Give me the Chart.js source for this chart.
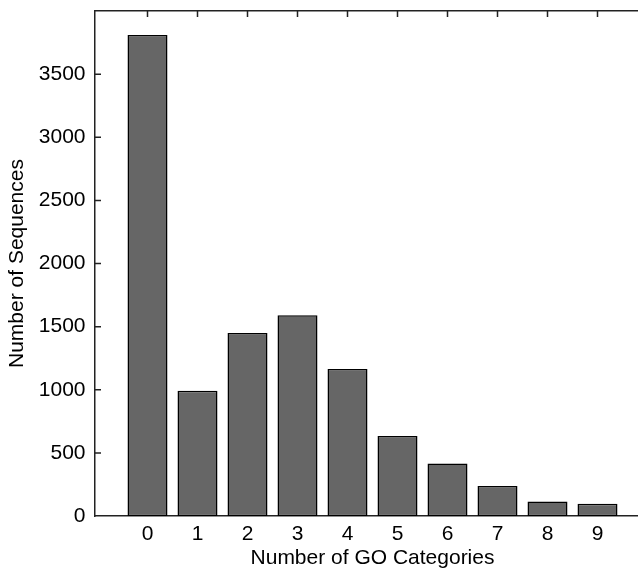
<!DOCTYPE html>
<html>
<head>
<meta charset="utf-8">
<script src="https://cdn.jsdelivr.net/npm/chart.js@4/dist/chart.umd.min.js"></script>
<style>
    html, body { margin: 0; padding: 0; background: #fff; overflow: hidden; }
    /* the original figure is cropped on the right, so the plot runs past the edge */
    #wrap { width: 650px; height: 572px; position: relative; }
</style>
</head>
<body>
<div id="wrap"><canvas id="goChart"></canvas></div>
<script>
/* global Chart */

// number of GO categories per sequence
const categories = [0, 1, 2, 3, 4, 5, 6, 7, 8, 9];
const sequenceCounts = [3810, 993, 1450, 1590, 1164, 633, 415, 238, 114, 98];
const yTicks = [0, 500, 1000, 1500, 2000, 2500, 3000, 3500];
const xTicks = categories;

Chart.defaults.font.family = '"Liberation Sans", Arial, sans-serif';
Chart.defaults.font.size = 21;
Chart.defaults.color = '#000';

// little inward tick marks, like the original matlab-ish frame
const innerTicks = {
    id: 'innerTicks',
    afterDraw(chart) {
        const { ctx, chartArea, scales } = chart;
        ctx.save();
        ctx.strokeStyle = '#222';
        ctx.lineWidth = 1.5;
        ctx.beginPath();
        yTicks.forEach(v => {
            if (v === 0) return;
            const y = scales.y.getPixelForValue(v);
            ctx.moveTo(chartArea.left, y);
            ctx.lineTo(chartArea.left + 6, y);
        });
        xTicks.forEach(v => {
            const x = scales.x.getPixelForValue(v);
            ctx.moveTo(x, chartArea.top);
            ctx.lineTo(x, chartArea.top + 6);
        });
        ctx.stroke();
        ctx.restore();
    }
};

new Chart(document.getElementById('goChart'), {
    type: 'bar',
    data: {
        datasets: [{
            data: categories.map((c, i) => ({ x: c, y: sequenceCounts[i] })),
            backgroundColor: '#666666',
            borderColor: '#000',
            borderWidth: 1.5,
            borderSkipped: false,
            barPercentage: 0.8,
            categoryPercentage: 1
        }]
    },
    options: {
        responsive: true,
        maintainAspectRatio: false,
        animation: false,
        layout: { padding: 0 },
        plugins: { legend: { display: false }, tooltip: { enabled: false } },
        scales: {
            x: {
                type: 'linear',
                position: 'bottom',
                offset: false,
                min: -1.05,
                max: 10.05,
                afterBuildTicks: s => { s.ticks = xTicks.map(v => ({ value: v })); },
                afterFit: s => { s.height = 56; s.paddingLeft = 0; s.paddingRight = 0; },
                ticks: { padding: 6, maxRotation: 0, callback: v => String(v) },
                grid: { display: false, drawTicks: false },
                border: { display: true, color: '#222', width: 1.5 },
                title: {
                    display: true,
                    text: 'Number of GO Categories',
                    padding: { top: 0, bottom: 1 }
                }
            },
            x2: {
                type: 'linear',
                position: 'top',
                offset: false,
                min: -1.05,
                max: 10.05,
                ticks: { display: false },
                afterFit: s => { s.height = 11; },
                grid: { display: false, drawTicks: false },
                border: { display: true, color: '#222', width: 1.5 }
            },
            y: {
                min: 0,
                max: 4000,
                afterBuildTicks: s => { s.ticks = yTicks.map(v => ({ value: v })); },
                afterFit: s => { s.width = 95; s.paddingTop = 0; s.paddingBottom = 0; },
                ticks: { padding: 9.5, callback: v => String(v) },
                grid: { display: false, drawTicks: false },
                border: { display: true, color: '#222', width: 1.5 },
                title: {
                    display: true,
                    text: 'Number of Sequences',
                    padding: { top: 4.5, bottom: 0 }
                }
            }
        }
    },
    plugins: [innerTicks]
});
</script>
</body>
</html>
